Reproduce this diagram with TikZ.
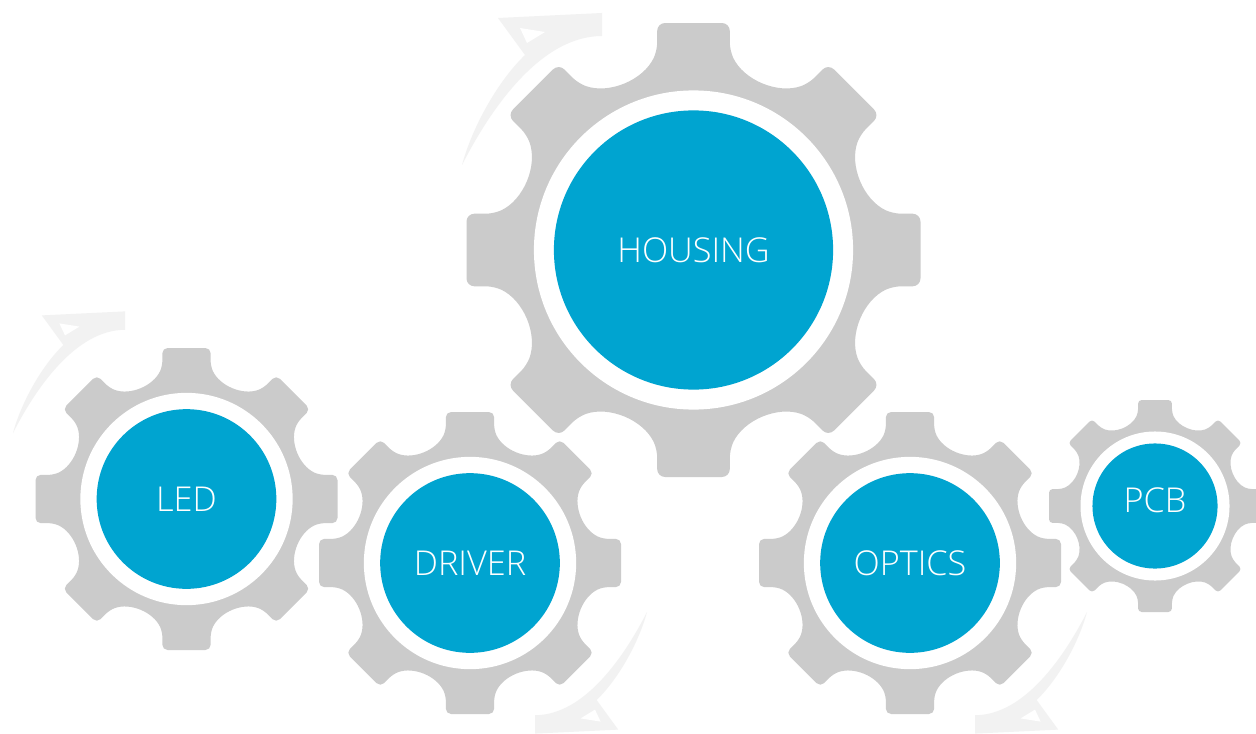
\documentclass[tikz,border=0pt]{standalone}
\usepackage{fontspec}
\IfFontExistsTF{Open Sans Light}{\setmainfont{Open Sans Light}}{\setmainfont{Open Sans}}
\definecolor{geargray}{HTML}{CBCBCB}
\definecolor{gearblue}{HTML}{00A4D0}
\definecolor{arrowgray}{HTML}{F2F2F2}
\tikzset{
  hub/.style={circle, fill=gearblue, inner sep=0pt, text=white,
    font=\fontsize{19.5}{24}\selectfont},
  ring/.style={fill=white},
}
% gear body: centre (#1,#2), outer radius #3 (px)
\newcommand\gearshape[3]{%
  \pgfmathsetmacro\gR{#3}%
  \pgfmathsetmacro\gcr{0.035*#3*0.5669}%
  \fill[geargray, rounded corners=\gcr pt, shift={(#1,#2)}]
    (90:{\gR})
    -- ({90-9.09}:{1.01272*\gR}) -- ({90-10.32}:{0.89295*\gR})
    arc[start angle={90+115.2}, end angle={90+199.8}, radius={0.28*\gR}]
    \foreach \k [evaluate=\k as \t using 90-45*\k] in {1,...,7}{
      -- ({\t+9.09}:{1.01272*\gR}) -- ({\t-9.09}:{1.01272*\gR})
      -- ({\t-10.32}:{0.89295*\gR})
      arc[start angle={\t+115.2}, end angle={\t+199.8}, radius={0.28*\gR}]
    }
    -- ({90+9.09}:{1.01272*\gR}) -- cycle;
  \fill[ring, shift={(#1,#2)}] (0,0) circle[radius={0.703*\gR}];
}
\newcommand\rotarrow{%
  \fill[arrowgray] (0,0) .. controls (10,-37) and (35,-83) .. (63,-110)
    -- (36,-147) -- (140,-152) -- (140,-129)
    .. controls (78,-129) and (28,-55) .. (0,0) -- cycle;
  \fill[white] (58,-137) -- (83,-133) -- (65,-122) -- cycle;
}
\begin{document}
\begin{tikzpicture}[x=0.02cm, y=-0.02cm]
\useasboundingbox (0,0) rectangle (1256,733);
\fill[white] (0,0) rectangle (1256,733);
% rotation arrows
\begin{scope}[shift={(462,165)}] \rotarrow \end{scope}
\begin{scope}[shift={(13,433)}, scale=0.8] \rotarrow \end{scope}
\begin{scope}[shift={(647,612)}, scale=-0.8] \rotarrow \end{scope}
\begin{scope}[shift={(1087,612)}, scale=-0.8] \rotarrow \end{scope}
% gears
\gearshape{693.5}{250}{227}
\gearshape{186.5}{499}{151}
\gearshape{470}{563}{151}
\gearshape{910}{563}{151}
\gearshape{1155}{506}{106}
% hubs
\node[hub, minimum size={1.23*227*0.02cm}] (housing) at (693.5,250) {\raisebox{-3.4pt}{HOUSING}};
\node[hub, minimum size={1.19*151*0.02cm}] (led) at (186.5,499) {LED};
\node[hub, minimum size={1.19*151*0.02cm}] (driver) at (470,563) {DRIVER};
\node[hub, minimum size={1.19*151*0.02cm}] (optics) at (910,563) {OPTICS};
\node[hub, minimum size={1.18*106*0.02cm}] (pcb) at (1155,506) {\raisebox{6.8pt}{PCB}};
\end{tikzpicture}
\end{document}
